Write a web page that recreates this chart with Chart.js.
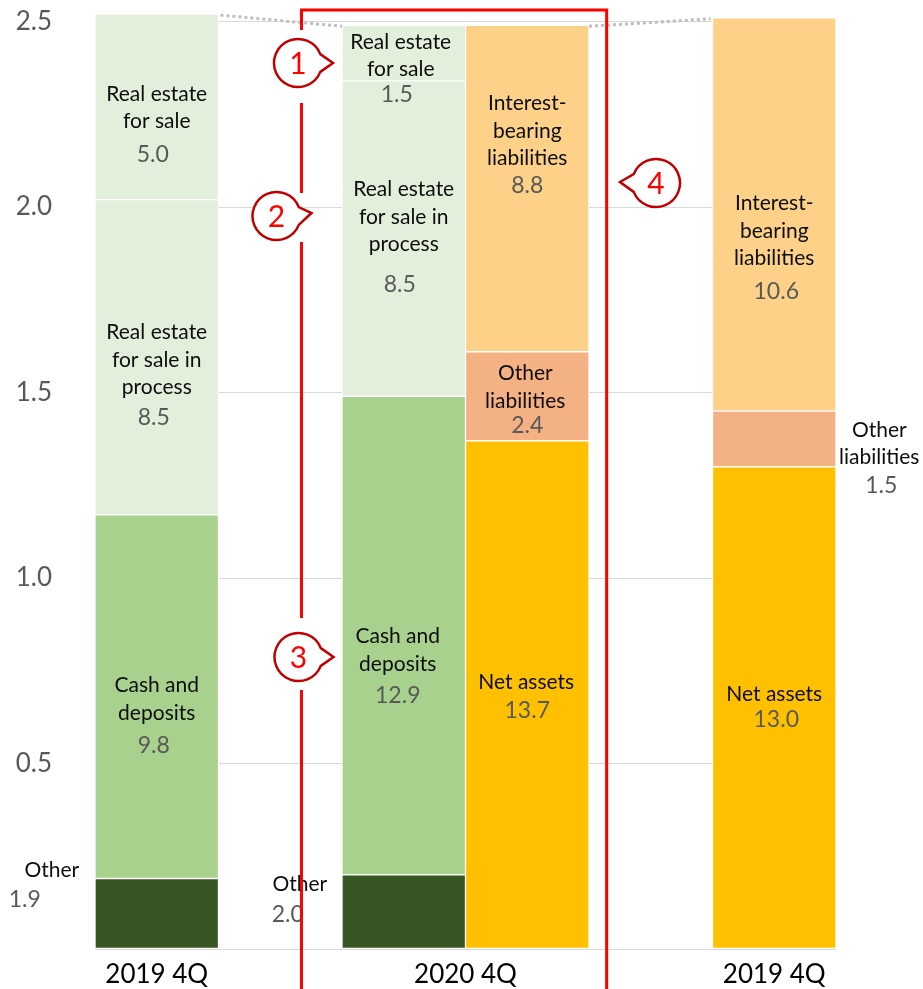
<!DOCTYPE html>
<html>
<head>
<meta charset="utf-8">
<script src="https://cdn.jsdelivr.net/npm/chart.js@4.4.1/dist/chart.umd.min.js"></script>
<style>
  html, body { margin: 0; padding: 0; background: #ffffff; }
  #wrap { width: 923px; height: 989px; position: relative; }
</style>
</head>
<body>
<div id="wrap"><canvas id="c" width="923" height="989"></canvas></div>
<script>
// ---------- DATA ----------
const categories = ['2019 4Q assets', '', '2020 4Q assets', '2020 4Q liabilities', '', '2019 4Q liabilities'];
const otherAssets   = [1.9, null, 2.0, null, null, null];
const cashDeposits  = [9.8, null, 12.9, null, null, null];
const reInProcess   = [8.5, null, 8.5, null, null, null];
const reForSale     = [5.0, null, 1.5, null, null, null];
const netAssets     = [null, null, null, 13.7, null, 13.0];
const otherLiab     = [null, null, null, 2.4, null, 1.5];
const interestLiab  = [null, null, null, 8.8, null, 10.6];
const seriesNames = ['Other', 'Cash and\ndeposits', 'Real estate\nfor sale in\nprocess', 'Real estate\nfor sale',
                     'Net assets', 'Other\nliabilities', 'Interest-\nbearing\nliabilities'];
const yTickLabels = ['0.5', '1.0', '1.5', '2.0', '2.5'];
const xGroupLabels = ['2019 4Q', '2020 4Q', '2019 4Q'];
const xGroupCats = [[0], [2, 3], [5]];
const markers = ['1', '2', '3', '4'];

// ---------- STYLE / LAYOUT ----------
const colors = ['#375623', '#a9d18e', '#e2efda', '#e2efda', '#ffc000', '#f4b183', '#fed188'];
const FONT = 'Lato, "Open Sans", "DejaVu Sans", sans-serif';
// label offsets relative to segment centre: [dataset, category, dx, dy, gap, vdx]
const labelLayout = [
  [0, 0, -105, -43, 29, -132],
  [1, 0, 0, -11, 32, -3],
  [2, 0, 0, -25, 30, -3],
  [3, 0, 0, -13, 33, -4],
  [0, 2, -104, -27, 30, -116],
  [1, 2, -6, 1, 32, -6],
  [2, 2, 0, -49, 40, -4],
  [3, 2, -3, -11, 25, -7],
  [4, 3, -1, -12, 28, 0],
  [5, 3, -2, -23, 25, 0],
  [6, 3, 0, -85, 27, 0],
  [4, 5, 0, -13, 25, 2],
  [5, 5, 105, -9, 28, 107],
  [6, 5, 0, -11, 33, 2]
];
// marker bubbles: [cx, cy, tipSide, tipDy, gapTop, gapBottom] (pixels)
const markerLayout = [
  [298, 63, 1, 0, 33, 40],
  [276.5, 216, 1, -3, 23, 26],
  [298.5, 657, 1, 0, 39, 33],
  [656, 183, -1, -1, 0, 0]
];

const datasets = [otherAssets, cashDeposits, reInProcess, reForSale, netAssets, otherLiab, interestLiab]
  .map((d, i) => ({
    label: seriesNames[i].replace(/\n/g, ' '),
    data: d,
    backgroundColor: colors[i],
    borderColor: '#ffffff',
    borderWidth: 1,
    borderSkipped: false,
    barPercentage: 1.0,
    categoryPercentage: 1.0
  }));

const overlay = {
  id: 'overlay',
  afterDatasetsDraw(chart) {
    const ctx = chart.ctx;
    const xs = chart.scales.x;
    const area = chart.chartArea;
    const el = (ds, i) => chart.getDatasetMeta(ds).data[i];

    // dotted connectors
    ctx.save();
    ctx.strokeStyle = '#bfbfbf';
    ctx.lineWidth = 3;
    ctx.setLineDash([3, 3]);
    const a0 = el(3, 0), a2 = el(3, 2), l3 = el(6, 3), l5 = el(6, 5);
    ctx.beginPath();
    ctx.moveTo(a0.x + a0.width / 2 + 2, a0.y + 1);
    ctx.lineTo(a2.x - a2.width / 2, a2.y + 1);
    ctx.moveTo(l3.x + l3.width / 2, l3.y + 1);
    ctx.lineTo(l5.x - l5.width / 2 - 2, l5.y + 1);
    ctx.stroke();
    ctx.restore();

    // segment labels
    ctx.save();
    ctx.textAlign = 'center';
    ctx.textBaseline = 'middle';
    labelLayout.forEach(([ds, ci, dx, dy, gap, vdx]) => {
      const b = el(ds, ci);
      const cx = b.x;
      const cy = (b.y + b.base) / 2;
      const lines = seriesNames[ds].split('\n');
      ctx.font = '21px ' + FONT;
      ctx.fillStyle = '#0d0d0d';
      let y = cy + dy;
      lines.forEach((t, k) => {
        ctx.fillText(t, cx + dx, y + k * 27.5);
      });
      const vy = y + (lines.length - 1) * 27.5 + gap;
      ctx.font = '23px ' + FONT;
      ctx.fillStyle = '#595959';
      ctx.fillText(chart.data.datasets[ds].data[ci].toFixed(1), cx + vdx, vy);
    });

    // x group labels
    ctx.font = '26px ' + FONT;
    ctx.fillStyle = '#000000';
    xGroupLabels.forEach((t, g) => {
      const cs = xGroupCats[g];
      const x = cs.reduce((s, c) => s + xs.getPixelForValue(c), 0) / cs.length;
      ctx.fillText(t, x, area.bottom + 26);
    });
    ctx.restore();

    // red frame
    const slot = xs.getPixelForValue(1) - xs.getPixelForValue(0);
    const left = xs.getPixelForValue(2) - 0.828 * slot;
    const right = xs.getPixelForValue(3) + 0.643 * slot;
    const top = 10;
    ctx.save();
    ctx.strokeStyle = '#ff0000';
    ctx.lineWidth = 3;
    ctx.lineCap = 'butt';
    ctx.beginPath();
    ctx.moveTo(left, chart.height);
    ctx.lineTo(left, top);
    ctx.lineTo(right, top);
    ctx.lineTo(right, chart.height);
    ctx.stroke();
    // gaps in left line around bubbles
    ctx.fillStyle = '#ffffff';
    markerLayout.forEach(([cx, cy, side, tdy, gt, gb]) => {
      if (gt || gb) ctx.fillRect(left - 3, cy - gt, 6, gt + gb);
    });
    ctx.restore();

    // bubbles
    ctx.save();
    const r = 24, a = 0.38;
    markerLayout.forEach(([cx, cy, side, tdy], k) => {
      ctx.beginPath();
      if (side > 0) {
        ctx.arc(cx, cy, r, a, 2 * Math.PI - a);
        ctx.lineTo(cx + r + 11, cy + tdy);
      } else {
        ctx.arc(cx, cy, r, Math.PI + a, 3 * Math.PI - a);
        ctx.lineTo(cx - r - 12, cy + tdy);
      }
      ctx.closePath();
      ctx.fillStyle = '#ffffff';
      ctx.fill();
      ctx.strokeStyle = '#c00000';
      ctx.lineWidth = 2.5;
      ctx.stroke();
      ctx.fillStyle = '#ff0000';
      ctx.font = '30px ' + FONT;
      ctx.textAlign = 'center';
      ctx.textBaseline = 'middle';
      ctx.fillText(markers[k], cx, cy + 1);
    });
    ctx.restore();
  }
};

new Chart(document.getElementById('c'), {
  type: 'bar',
  data: { labels: categories, datasets: datasets },
  options: {
    responsive: false,
    animation: false,
    layout: { autoPadding: false, padding: { left: 0, right: 87, top: 3, bottom: 40 } },
    plugins: { legend: { display: false }, tooltip: { enabled: false } },
    scales: {
      x: {
        stacked: true,
        display: false,
        grid: { display: false }
      },
      y: {
        stacked: true,
        min: 0,
        max: 25.5,
        border: { display: false },
        grid: { color: '#d9d9d9', lineWidth: 1, drawTicks: false },
        afterFit(scale) { scale.width = 95; scale.paddingTop = 0; scale.paddingBottom = 0; },
        ticks: {
          stepSize: 5,
          includeBounds: false,
          padding: 43,
          color: '#595959',
          font: { family: FONT, size: 26 },
          callback: (v) => (v === 0 ? '' : yTickLabels[Math.round(v / 5) - 1])
        }
      }
    }
  },
  plugins: [overlay]
});
</script>
</body>
</html>
